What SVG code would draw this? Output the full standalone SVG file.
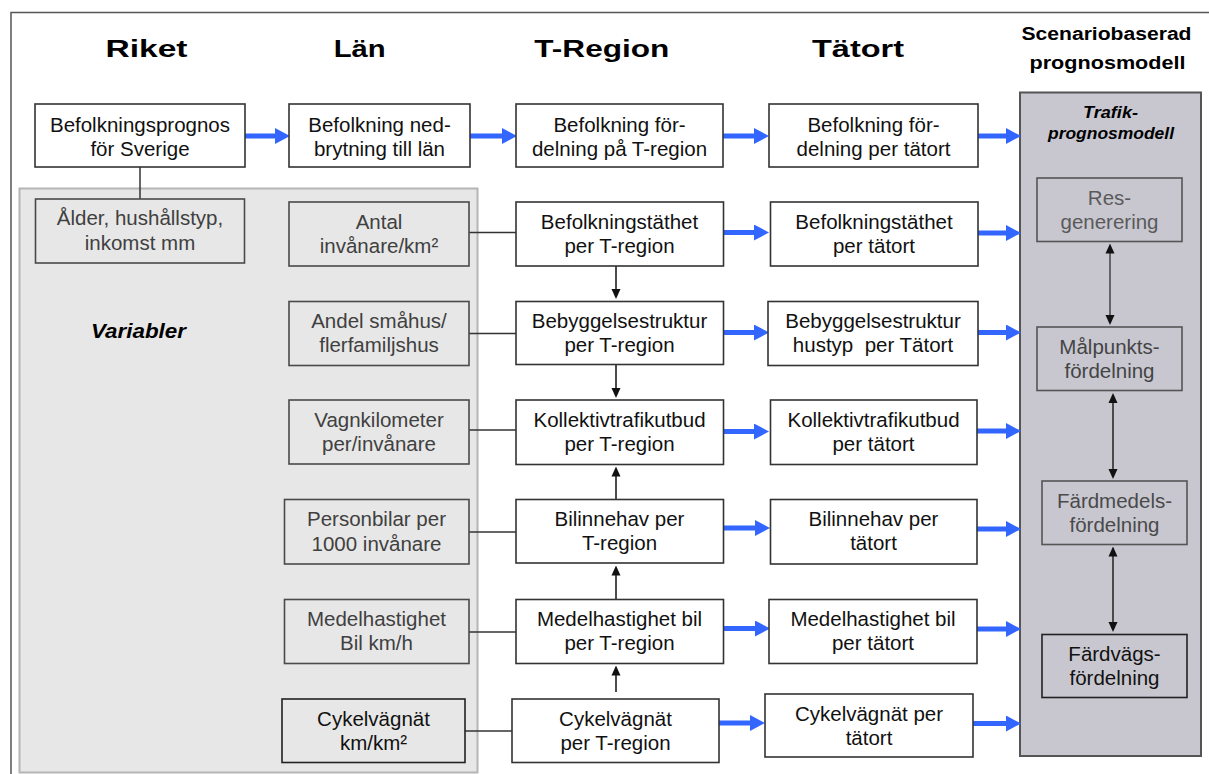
<svg xmlns="http://www.w3.org/2000/svg" width="1209" height="774" viewBox="0 0 1209 774">
<style>
  .hdr{font-family:"Liberation Sans",Arial,sans-serif;font-weight:bold;fill:#000;text-anchor:middle}
  .t{font-family:"Liberation Sans",Arial,sans-serif;font-size:20.5px;fill:#111;text-anchor:middle}
  .tv{font-family:"Liberation Sans",Arial,sans-serif;font-size:20.5px;fill:#404040;text-anchor:middle}
  .bi{font-family:"Liberation Sans",Arial,sans-serif;font-weight:bold;font-style:italic;fill:#000;text-anchor:middle}
  .box{fill:#fff;stroke:#333;stroke-width:1.6}
  .vbox{fill:#e7e7e7;stroke:#4a4a4a;stroke-width:1.6}
  .pbox{fill:#c8c7d0;stroke:#555;stroke-width:1.6}
  .blue{stroke:#3366ff;stroke-width:5;fill:none;marker-end:url(#bh)}
  .blk{stroke:#111;stroke-width:1.5;fill:none;marker-end:url(#kh)}
  .dbl{stroke:#222;stroke-width:1.5;fill:none;marker-end:url(#kh);marker-start:url(#kh)}
  .ln{stroke:#333;stroke-width:1.5;fill:none}
</style>
<defs>
  <marker id="bh" markerUnits="userSpaceOnUse" markerWidth="15" markerHeight="16" refX="4" refY="8" orient="auto">
    <path d="M0,0 L15,8 L0,16 z" fill="#3366ff"/>
  </marker>
  <marker id="kh" markerUnits="userSpaceOnUse" markerWidth="10" markerHeight="10" refX="2" refY="5" orient="auto-start-reverse">
    <path d="M0,0.5 L10,5 L0,9.5 z" fill="#111"/>
  </marker>
</defs>

<rect width="1209" height="774" fill="#fff"/>
<path d="M1209,12.5 H11 V774" fill="none" stroke="#555" stroke-width="1.5"/>

<!-- headers -->
<g id="headers">
  <text class="hdr" x="146.5" y="57" font-size="24" textLength="82" lengthAdjust="spacingAndGlyphs">Riket</text>
  <text class="hdr" x="359.7" y="57" font-size="24" textLength="52" lengthAdjust="spacingAndGlyphs">Län</text>
  <text class="hdr" x="601.8" y="57" font-size="24" textLength="135" lengthAdjust="spacingAndGlyphs">T-Region</text>
  <text class="hdr" x="858" y="57" font-size="24" textLength="92" lengthAdjust="spacingAndGlyphs">Tätort</text>
  <text class="hdr" x="1106.5" y="40" font-size="18" textLength="170" lengthAdjust="spacingAndGlyphs">Scenariobaserad</text>
  <text class="hdr" x="1107.5" y="69" font-size="18" textLength="156" lengthAdjust="spacingAndGlyphs">prognosmodell</text>
</g>

<!-- variables panel -->
<g id="variabler-panel">
  <rect x="19.5" y="188.5" width="458" height="584" fill="#e7e7e7" stroke="#b5b5b5" stroke-width="2"/>
  <text class="bi" x="138.5" y="338" font-size="20" textLength="95" lengthAdjust="spacingAndGlyphs">Variabler</text>
</g>

<!-- traffic model panel -->
<g id="trafikmodell-panel">
  <rect x="1020" y="92.5" width="181" height="663.5" fill="#c8c7d0" stroke="#555" stroke-width="2"/>
  <text class="bi" x="1110.5" y="117.5" font-size="16" textLength="55" lengthAdjust="spacingAndGlyphs">Trafik-</text>
  <text class="bi" x="1111" y="139" font-size="16" textLength="126" lengthAdjust="spacingAndGlyphs">prognosmodell</text>
</g>

<!-- connectors -->
<g id="connectors">
  <line class="ln" x1="140" y1="167" x2="140" y2="199"/>
  <!-- top row blue -->
  <line class="blue" x1="245" y1="136" x2="279" y2="136"/>
  <line class="blue" x1="470" y1="136" x2="506" y2="136"/>
  <line class="blue" x1="723" y1="136" x2="758" y2="136"/>
  <line class="blue" x1="978" y1="136" x2="1010" y2="136"/>
  <!-- variable lines -->
  <line class="ln" x1="469" y1="232.5" x2="516" y2="232.5"/>
  <line class="ln" x1="469" y1="333.5" x2="516" y2="333.5"/>
  <line class="ln" x1="469" y1="430" x2="516" y2="430"/>
  <line class="ln" x1="469" y1="532" x2="516" y2="532"/>
  <line class="ln" x1="469" y1="632" x2="516" y2="632"/>
  <line class="ln" x1="465" y1="731" x2="512" y2="731"/>
  <!-- T-region to Tätort -->
  <line class="blue" x1="723" y1="232.5" x2="758" y2="232.5"/>
  <line class="blue" x1="723" y1="332.5" x2="758" y2="332.5"/>
  <line class="blue" x1="723" y1="431.5" x2="758" y2="431.5"/>
  <line class="blue" x1="723" y1="528" x2="759" y2="528"/>
  <line class="blue" x1="723" y1="628.5" x2="759" y2="628.5"/>
  <line class="blue" x1="719" y1="723" x2="754" y2="723"/>
  <!-- Tätort to model -->
  <line class="blue" x1="977" y1="233" x2="1010" y2="233"/>
  <line class="blue" x1="978" y1="332.5" x2="1010" y2="332.5"/>
  <line class="blue" x1="977" y1="431" x2="1010" y2="431"/>
  <line class="blue" x1="977" y1="529" x2="1010" y2="529"/>
  <line class="blue" x1="977" y1="629" x2="1010" y2="629"/>
  <line class="blue" x1="973" y1="723.5" x2="1010" y2="723.5"/>
  <!-- vertical black arrows -->
  <line class="blk" x1="616" y1="266" x2="616" y2="291"/>
  <line class="blk" x1="616" y1="364.5" x2="616" y2="390"/>
  <line class="blk" x1="616" y1="499.5" x2="616" y2="474.5"/>
  <line class="blk" x1="616" y1="599.5" x2="616" y2="573.5"/>
  <line class="blk" x1="616" y1="692" x2="616" y2="673.5"/>
  <!-- model double arrows -->
  <line class="dbl" x1="1110" y1="251.5" x2="1110" y2="317" style="stroke:#444"/>
  <line class="dbl" x1="1113" y1="401" x2="1113" y2="471"/>
  <line class="dbl" x1="1113" y1="554.5" x2="1113" y2="624"/>
</g>

<!-- top row -->
<g id="n-befolkningsprognos">
  <rect class="box" x="35" y="104" width="210" height="63"/>
  <text class="t" x="140" y="131.5">Befolkningsprognos</text>
  <text class="t" x="140" y="155.5">för Sverige</text>
</g>
<g id="n-befolkning-lan">
  <rect class="box" x="289" y="104" width="181" height="63"/>
  <text class="t" x="379.5" y="131.5">Befolkning ned-</text>
  <text class="t" x="379.5" y="155.5">brytning till län</text>
</g>
<g id="n-befolkning-tregion">
  <rect class="box" x="516" y="104" width="207" height="63"/>
  <text class="t" x="619.5" y="131.5">Befolkning för-</text>
  <text class="t" x="619.5" y="155.5">delning på T-region</text>
</g>
<g id="n-befolkning-tatort">
  <rect class="box" x="769" y="104" width="209" height="63"/>
  <text class="t" x="873.5" y="131.5">Befolkning för-</text>
  <text class="t" x="873.5" y="155.5">delning per tätort</text>
</g>

<!-- variable boxes -->
<g id="v-alder">
  <rect class="vbox" x="35.5" y="199" width="209" height="64"/>
  <text class="tv" x="140" y="225">Ålder, hushållstyp,</text>
  <text class="tv" x="140" y="249.5">inkomst mm</text>
</g>
<g id="v-antal">
  <rect class="vbox" x="289" y="202" width="180" height="64"/>
  <text class="tv" x="379" y="229">Antal</text>
  <text class="tv" x="379" y="253">invånare/km²</text>
</g>
<g id="v-andel">
  <rect class="vbox" x="289" y="301.5" width="180" height="64"/>
  <text class="tv" x="379" y="328">Andel småhus/</text>
  <text class="tv" x="379" y="352">flerfamiljshus</text>
</g>
<g id="v-vagnkilometer">
  <rect class="vbox" x="289" y="400" width="180" height="64"/>
  <text class="tv" x="379" y="426.5">Vagnkilometer</text>
  <text class="tv" x="379" y="450.5">per/invånare</text>
</g>
<g id="v-personbilar">
  <rect class="vbox" x="284.5" y="499.5" width="184.5" height="64.5"/>
  <text class="tv" x="376.5" y="526">Personbilar per</text>
  <text class="tv" x="376.5" y="550.5">1000 invånare</text>
</g>
<g id="v-medelhastighet">
  <rect class="vbox" x="284.5" y="599.5" width="184.5" height="64"/>
  <text class="tv" x="376.5" y="626">Medelhastighet</text>
  <text class="tv" x="376.5" y="650">Bil km/h</text>
</g>
<g id="v-cykelvagnat">
  <rect class="vbox" x="282" y="699" width="183" height="63.5" style="stroke:#222"/>
  <text class="t" x="373.5" y="725.5">Cykelvägnät</text>
  <text class="t" x="373.5" y="749.5">km/km²</text>
</g>

<!-- T-region column -->
<g id="t-befolkningstathet">
  <rect class="box" x="516" y="202" width="207.5" height="64"/>
  <text class="t" x="619.5" y="229">Befolkningstäthet</text>
  <text class="t" x="619.5" y="253">per T-region</text>
</g>
<g id="t-bebyggelse">
  <rect class="box" x="516" y="301.5" width="207.5" height="63"/>
  <text class="t" x="619.5" y="328">Bebyggelsestruktur</text>
  <text class="t" x="619.5" y="352">per T-region</text>
</g>
<g id="t-kollektiv">
  <rect class="box" x="516" y="400" width="207.5" height="64.5"/>
  <text class="t" x="619.5" y="426.5">Kollektivtrafikutbud</text>
  <text class="t" x="619.5" y="450.5">per T-region</text>
</g>
<g id="t-bilinnehav">
  <rect class="box" x="516" y="499.5" width="207.5" height="63.5"/>
  <text class="t" x="619.5" y="526">Bilinnehav per</text>
  <text class="t" x="619.5" y="550">T-region</text>
</g>
<g id="t-medelhastighet">
  <rect class="box" x="516" y="599.5" width="207.5" height="64"/>
  <text class="t" x="619.5" y="626">Medelhastighet bil</text>
  <text class="t" x="619.5" y="650">per T-region</text>
</g>
<g id="t-cykelvagnat">
  <rect class="box" x="512" y="699" width="207" height="63.5"/>
  <text class="t" x="615.5" y="725.5">Cykelvägnät</text>
  <text class="t" x="615.5" y="749.5">per T-region</text>
</g>

<!-- Tätort column -->
<g id="o-befolkningstathet">
  <rect class="box" x="770.5" y="202" width="207.5" height="64"/>
  <text class="t" x="874" y="229">Befolkningstäthet</text>
  <text class="t" x="874" y="253">per tätort</text>
</g>
<g id="o-bebyggelse">
  <rect class="box" x="768" y="301.5" width="210" height="64"/>
  <text class="t" x="873" y="328">Bebyggelsestruktur</text>
  <text class="t" x="873" y="352" style="white-space:pre">hustyp  per Tätort</text>
</g>
<g id="o-kollektiv">
  <rect class="box" x="770.5" y="400" width="206.5" height="64.5"/>
  <text class="t" x="873.5" y="426.5">Kollektivtrafikutbud</text>
  <text class="t" x="873.5" y="450.5">per tätort</text>
</g>
<g id="o-bilinnehav">
  <rect class="box" x="770.5" y="499.5" width="206.5" height="64.5"/>
  <text class="t" x="873.5" y="526">Bilinnehav per</text>
  <text class="t" x="873.5" y="550">tätort</text>
</g>
<g id="o-medelhastighet">
  <rect class="box" x="769" y="599.5" width="208" height="64"/>
  <text class="t" x="873" y="626">Medelhastighet bil</text>
  <text class="t" x="873" y="650">per tätort</text>
</g>
<g id="o-cykelvagnat">
  <rect class="box" x="765" y="694" width="208" height="63"/>
  <text class="t" x="869" y="720.5">Cykelvägnät per</text>
  <text class="t" x="869" y="744.5">tätort</text>
</g>

<!-- model boxes -->
<g id="m-resgenerering">
  <rect class="pbox" x="1037" y="178" width="145" height="63.5"/>
  <text class="t" x="1109.5" y="204.5" style="fill:#5a5a5a">Res-</text>
  <text class="t" x="1109.5" y="228.5" style="fill:#5a5a5a">generering</text>
</g>
<g id="m-malpunkt">
  <rect class="pbox" x="1037" y="327" width="145" height="63.5"/>
  <text class="t" x="1109.5" y="353.5" style="fill:#444">Målpunkts-</text>
  <text class="t" x="1109.5" y="377.5" style="fill:#444">fördelning</text>
</g>
<g id="m-fardmedel">
  <rect class="pbox" x="1042" y="481" width="145" height="63.5"/>
  <text class="t" x="1114.5" y="507.5" style="fill:#4a4a4a">Färdmedels-</text>
  <text class="t" x="1114.5" y="531.5" style="fill:#4a4a4a">fördelning</text>
</g>
<g id="m-fardvag">
  <rect class="pbox" x="1042" y="634.5" width="145" height="63" style="stroke:#222"/>
  <text class="t" x="1114.5" y="661" style="fill:#111">Färdvägs-</text>
  <text class="t" x="1114.5" y="685" style="fill:#111">fördelning</text>
</g>
</svg>
